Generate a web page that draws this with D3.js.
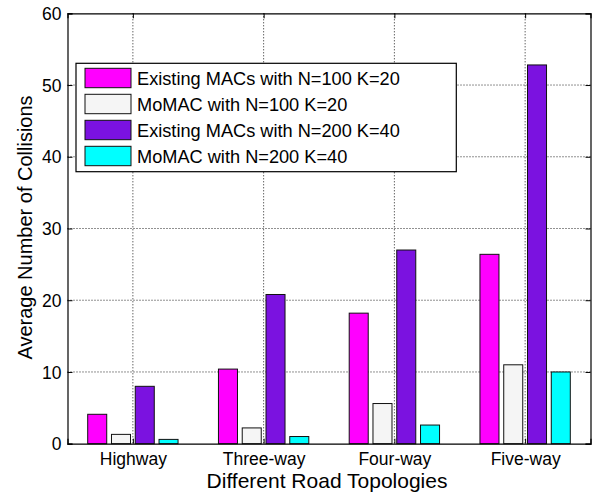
<!DOCTYPE html>
<html>
<head>
<meta charset="utf-8">
<script src="https://cdn.jsdelivr.net/npm/d3@7"></script>
<style>
  html, body { margin: 0; padding: 0; background: #fff; }
  svg text { font-family: "Liberation Sans", Arial, sans-serif; fill: #000; }
</style>
</head>
<body>
<svg id="chart" width="606" height="497"></svg>
<script>
// Road topologies on the x axis
const categories = ["Highway", "Three-way", "Four-way", "Five-way"];

// Average number of collisions per topology
const existing100 = [4.1, 10.4, 18.2, 26.4];
const momac100    = [1.3, 2.2, 5.6, 11.0];
const existing200 = [8.0, 20.8, 27.0, 52.8];
const momac200    = [0.6, 1.0, 2.6, 10.0];

const seriesNames  = [
  "Existing MACs with N=100 K=20",
  "MoMAC with N=100 K=20",
  "Existing MACs with N=200 K=40",
  "MoMAC with N=200 K=40"
];
const seriesColors = ["#ff00ff", "#f5f5f5", "#7b12e0", "#00ffff"];
const seriesValues = [existing100, momac100, existing200, momac200];

const yTicks = [0, 10, 20, 30, 40, 50, 60];

const svg = d3.select("#chart");
const plotL = 67.5, plotR = 590.5, plotT = 13.3, plotB = 443.7;

const x = d3.scaleLinear().domain([0.5, categories.length + 0.5]).range([plotL, plotR]);
const y = d3.scaleLinear().domain([0, 60]).range([plotB, plotT]);

// grouped bar geometry (fraction of one category slot)
const nSeries = seriesValues.length;
const groupWidth = Math.min(0.8, nSeries / (nSeries + 1.5));
const pitch = groupWidth / nSeries;
const barW = pitch * 0.8;

// dotted grid
const grid = svg.append("g");
grid.selectAll("line.gy").data(yTicks.slice(1, -1)).join("line")
  .attr("x1", plotL).attr("x2", plotR)
  .attr("y1", d => y(d)).attr("y2", d => y(d))
  .attr("stroke", "#222").attr("stroke-width", 1).attr("stroke-dasharray", "1,2");
grid.selectAll("line.gx").data(categories.map((c, i) => i + 1)).join("line")
  .attr("y1", plotT).attr("y2", plotB)
  .attr("x1", d => x(d)).attr("x2", d => x(d))
  .attr("stroke", "#222").attr("stroke-width", 1).attr("stroke-dasharray", "1,2");

// bars
seriesValues.forEach((vals, s) => {
  const off = (s - (nSeries - 1) / 2) * pitch;
  svg.append("g").selectAll("rect").data(vals).join("rect")
    .attr("x", (d, i) => x(i + 1 + off - barW / 2))
    .attr("width", x(barW) - x(0))
    .attr("y", d => y(d))
    .attr("height", d => y(0) - y(d))
    .attr("fill", seriesColors[s])
    .attr("stroke", "#111")
    .attr("stroke-width", 1);
});

// axes with inward ticks on all four sides
const fontTick = "17.5px";
const gL = svg.append("g").attr("transform", `translate(${plotL},0)`)
  .call(d3.axisLeft(y).tickValues(yTicks).tickSize(-5).tickPadding(6));
const gR = svg.append("g").attr("transform", `translate(${plotR},0)`)
  .call(d3.axisRight(y).tickValues(yTicks).tickSize(-5).tickFormat(""));
const gB = svg.append("g").attr("transform", `translate(0,${plotB})`)
  .call(d3.axisBottom(x).tickValues(categories.map((c, i) => i + 1))
    .tickSize(-5).tickPadding(8.5).tickFormat((d) => categories[d - 1]));
const gT = svg.append("g").attr("transform", `translate(0,${plotT})`)
  .call(d3.axisTop(x).tickValues(categories.map((c, i) => i + 1)).tickSize(-5).tickFormat(""));

[gL, gR, gB, gT].forEach(g => {
  g.select(".domain").attr("stroke", "#000").attr("stroke-width", 1.2);
  g.selectAll(".tick line").attr("stroke", "#000");
  g.selectAll("text").attr("font-family", "'Liberation Sans', Arial, sans-serif")
    .attr("font-size", fontTick).attr("fill", "#000");
});
gL.selectAll("text").attr("dy", "0.35em");

// axis titles
svg.append("text")
  .attr("x", 327).attr("y", 488)
  .attr("text-anchor", "middle").attr("font-size", "21px")
  .text("Different Road Topologies");
svg.append("text")
  .attr("transform", `translate(32,${(plotT + plotB) / 2 - 1}) rotate(-90)`)
  .attr("text-anchor", "middle").attr("font-size", "20px")
  .text("Average Number of Collisions");

// legend
const lg = svg.append("g");
lg.append("rect").attr("x", 76).attr("y", 63.3).attr("width", 380.3).attr("height", 108.4)
  .attr("fill", "#fff").attr("stroke", "#000").attr("stroke-width", 1.2);
seriesNames.forEach((name, i) => {
  const cy = 78 + i * 26;
  lg.append("rect").attr("x", 85).attr("y", cy - 9.7).attr("width", 46).attr("height", 19.4)
    .attr("fill", seriesColors[i]).attr("stroke", "#111").attr("stroke-width", 1);
  lg.append("text").attr("x", 137).attr("y", cy + 7)
    .attr("font-size", "18.2px").text(name);
});
</script>
</body>
</html>
